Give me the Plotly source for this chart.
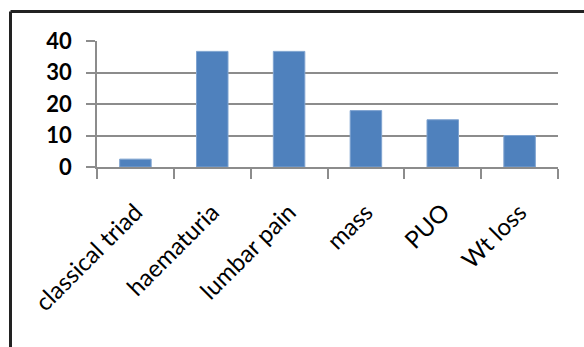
import plotly.graph_objects as go

categories = ["classical triad", "haematuria", "lumbar pain", "mass", "PUO", "Wt loss"]
values = [2.5, 36.7, 36.7, 17.9, 15, 10]
y_ticks = [0, 10, 20, 30, 40]

W, H = 584, 347
ml, mr, mt, mb = 97, 26, 41, 180
pw, ph = W - ml - mr, H - mt - mb

def px_x(px):
    return (px - ml) / pw

def px_y(py):
    return (H - mb - py) / ph

fig = go.Figure(go.Bar(
    x=categories, y=values,
    marker=dict(color="#4F81BD", line=dict(color="#7FA3D0", width=1)),
    width=0.41,
))

fig.update_layout(
    width=W, height=H,
    margin=dict(l=ml, r=mr, t=mt, b=mb),
    paper_bgcolor="white", plot_bgcolor="white",
    showlegend=False,
    xaxis=dict(
        range=[-0.5, 5.5], showline=True, linecolor="#8C8C8C", linewidth=1.5,
        ticks="outside", tickson="boundaries", ticklen=10, tickcolor="#8C8C8C", tickwidth=1.5,
        tickangle=-45, tickfont=dict(family="Lato", size=24, color="black"),
        ticklabelstandoff=20,
        showgrid=False,
    ),
    yaxis=dict(
        range=[0, 40], tickvals=y_ticks, showline=True, linecolor="#8C8C8C", linewidth=1.5,
        ticks="outside", ticklen=9, tickcolor="#8C8C8C", tickwidth=1.5,
        showgrid=True, gridcolor="#8C8C8C", gridwidth=1.5, zeroline=False,
        tickfont=dict(family="Lato", size=22, color="black", weight="bold"),
        ticklabelstandoff=10,
    ),
    shapes=[
        dict(type="line", xref="paper", yref="paper", x0=px_x(10.5), x1=px_x(600),
             y0=px_y(11.5), y1=px_y(11.5), line=dict(color="#222", width=3)),
        dict(type="line", xref="paper", yref="paper", x0=px_x(10.5), x1=px_x(10.5),
             y0=px_y(11.5), y1=px_y(360), line=dict(color="#222", width=3)),
    ],
)

fig.write_html("out.html")
